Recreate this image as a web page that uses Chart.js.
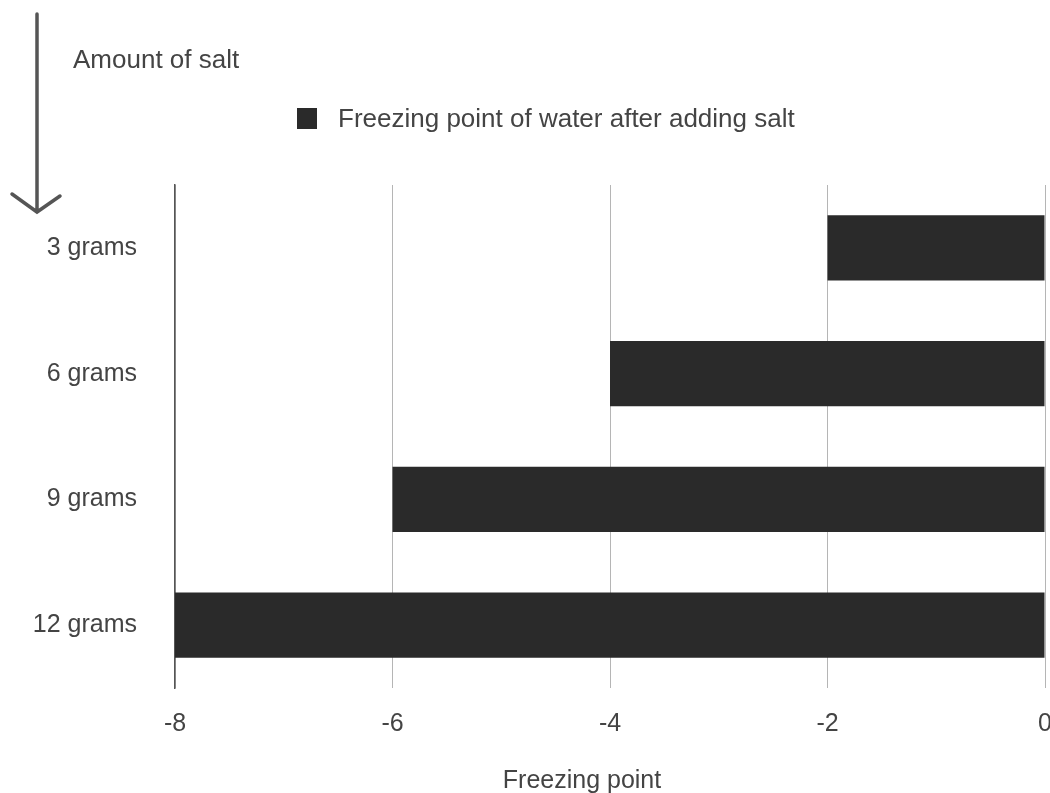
<!DOCTYPE html>
<html>
<head>
<meta charset="utf-8">
<title>Freezing point of water after adding salt</title>
<script src="https://cdn.jsdelivr.net/npm/chart.js@4.4.0/dist/chart.umd.min.js"></script>
<style>
  body { margin: 0; background: #fff; }
  canvas { display: block; }
</style>
</head>
<body>
<canvas id="salt-chart" width="1050" height="793"></canvas>
<script>
const saltAmounts = ['3 grams', '6 grams', '9 grams', '12 grams'];
const freezingPoints = [-2, -4, -6, -8];
const seriesLabel = 'Freezing point of water after adding salt';
const axisLabelY = 'Amount of salt';
const axisLabelX = 'Freezing point';

const textColor = '#444';
const barColor = '#2a2a2a';
const fontFamily = '"Liberation Sans", Arial, Helvetica, sans-serif';

// arrow, "Amount of salt", legend and x title drawn on top
const extras = {
    id: 'extras',
    afterDraw(chart) {
        const ctx = chart.ctx;
        ctx.save();

        // down arrow on the left
        ctx.strokeStyle = '#555';
        ctx.lineWidth = 3.5;
        ctx.lineCap = 'round';
        ctx.beginPath();
        ctx.moveTo(37, 14);
        ctx.lineTo(37, 211);
        ctx.moveTo(12, 194);
        ctx.lineTo(37, 212);
        ctx.lineTo(60, 196);
        ctx.stroke();

        ctx.fillStyle = textColor;
        ctx.font = '26px ' + fontFamily;
        ctx.textBaseline = 'alphabetic';
        ctx.textAlign = 'left';
        ctx.fillText(axisLabelY, 73, 68);

        // legend
        const ds = chart.data.datasets[0];
        ctx.fillStyle = ds.backgroundColor;
        ctx.fillRect(297, 108, 20, 21);
        ctx.fillStyle = textColor;
        ctx.fillText(ds.label, 338, 127);

        // x axis title
        ctx.font = '25px ' + fontFamily;
        ctx.textAlign = 'center';
        ctx.fillText(axisLabelX, 582, 788);
        ctx.restore();
    }
};

const chartEl = document.getElementById('salt-chart');
const chart = new Chart(chartEl, {
    type: 'bar',
    data: {
        labels: saltAmounts,
        datasets: [
            {
                label: seriesLabel,
                data: freezingPoints,
                backgroundColor: barColor,
                borderWidth: 0,
                barPercentage: 0.52,
                categoryPercentage: 1
            }
        ]
    },
    options: {
        indexAxis: 'y',
        responsive: false,
        animation: false,
        devicePixelRatio: 1,
        layout: {
            padding: { top: 185, left: 0, right: 5, bottom: 0 }
        },
        plugins: {
            legend: { display: false },
            tooltip: { enabled: false }
        },
        scales: {
            x: {
                min: -8,
                max: 0,
                ticks: {
                    stepSize: 2,
                    color: textColor,
                    font: { family: fontFamily, size: 25 },
                    padding: 21
                },
                grid: {
                    color: '#b5b5b5',
                    lineWidth: 1,
                    drawTicks: false
                },
                border: { display: false },
                afterFit(scale) {
                    scale.height = 105;
                    scale.paddingLeft = 0;
                    scale.paddingRight = 0;
                }
            },
            y: {
                ticks: {
                    color: textColor,
                    font: { family: fontFamily, size: 25 },
                    padding: 38
                },
                grid: { display: false, drawTicks: false },
                border: { display: true, color: '#555', width: 1.5 },
                afterFit(scale) {
                    scale.width = 175;
                }
            }
        }
    },
    plugins: [extras]
});
</script>
</body>
</html>
